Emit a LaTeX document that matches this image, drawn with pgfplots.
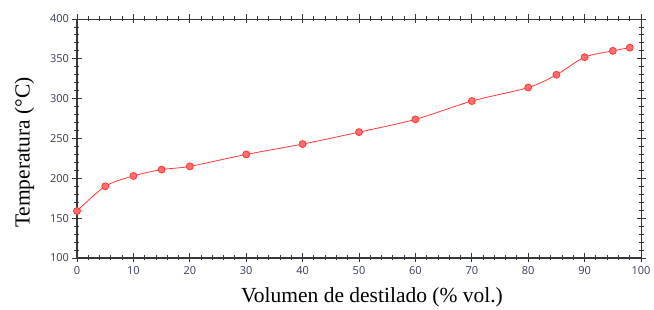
\documentclass[border=0pt]{standalone}
\usepackage{pgfplots}
\pgfplotsset{compat=1.18}
\usepackage{fontspec}
\setmainfont{Liberation Serif}
\newfontfamily\tickfont{Open Sans}
\definecolor{curve}{RGB}{255,55,55}
\definecolor{mfill}{RGB}{255,110,110}
\definecolor{axc}{RGB}{55,55,55}
\definecolor{tickc}{RGB}{55,60,85}
\begin{document}
\begin{tikzpicture}
\begin{axis}[
  name=ax,
  scale only axis,
  width=564pt, height=239pt,
  xmin=0, xmax=100, ymin=100, ymax=400,
  xtick={0,10,...,100}, ytick={100,150,...,400},
  minor x tick num=4, minor y tick num=4,
  tick align=center,
  major tick length=9pt, minor tick length=5pt,
  every tick/.style={axc, line width=0.9pt},
  axis line style={axc, line width=0.9pt},
  ticklabel style={font=\tickfont\fontsize{11}{13}\selectfont, text=tickc},
  /pgf/number format/assume math mode=true,
  xlabel={Volumen de destilado (\% vol.)},
  ylabel={Temperatura (°C)},
  label style={font=\fontsize{21.5}{24}\selectfont},
  xlabel style={yshift=-7pt, xshift=13pt},
  ylabel style={yshift=9pt, xshift=-14pt},
  clip=false,
]
\addplot[curve, line width=0.8pt, smooth, tension=0.5,
  mark=*, mark size=3.5pt,
  mark options={draw=curve, fill=mfill, line width=0.8pt}]
  coordinates {
  (0,159) (5,190) (10,203) (15,211) (20,215) (30,230) (40,243) (50,258)
  (60,274) (70,297) (80,314) (85,330) (90,352) (95,360) (98,364)
  };
\draw[axc, line width=1.8pt] (rel axis cs:0,1) -- (rel axis cs:0,0) -- (rel axis cs:1,0);
\end{axis}
\pgfresetboundingbox
\useasboundingbox ([shift={(-77pt,-52pt)}]ax.south west) rectangle ([shift={(13pt,19pt)}]ax.north east);
\end{tikzpicture}
\end{document}
